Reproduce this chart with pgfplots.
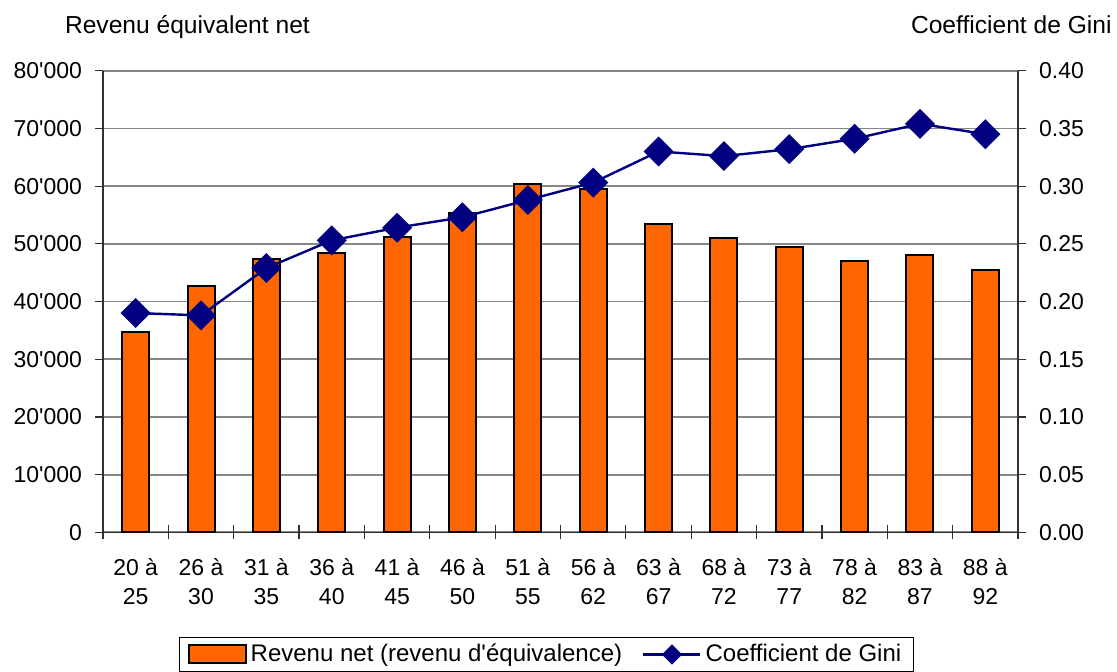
\documentclass[border=0pt]{standalone}
\usepackage{fontspec}
\setmainfont{Liberation Sans}
\usepackage{pgfplots}
\pgfplotsset{compat=1.18}
\usetikzlibrary{calc}

\definecolor{barorange}{HTML}{FF6600}
\definecolor{gininavy}{HTML}{000080}
\definecolor{gridgray}{HTML}{868686}
\definecolor{axisdark}{HTML}{303030}

\newcommand{\q}{\textquotesingle}

% Revenu net (revenu d'équivalence) par classe d'âge
\pgfplotstableread{
x revenu
0  34800
1  42700
2  47300
3  48400
4  51200
5  55400
6  60400
7  59500
8  53400
9  51000
10 49500
11 47100
12 48100
13 45500
}\revenutable

% Coefficient de Gini par classe d'âge
\pgfplotstableread{
x gini
0  0.190
1  0.188
2  0.229
3  0.253
4  0.264
5  0.273
6  0.288
7  0.303
8  0.330
9  0.326
10 0.332
11 0.341
12 0.354
13 0.345
}\ginitable

\begin{document}
\fontsize{11.5}{13.8}\selectfont
\begin{tikzpicture}
\pgfplotsset{
  every axis/.append style={
    scale only axis,
    width=457.5pt, height=230.8pt,
    xmin=-0.5, xmax=13.5,
    font=\fontsize{11.5}{14.5}\selectfont,
    /pgf/number format/assume math mode=true,
  },
}
\begin{axis}[
  name=ax,
  clip=false,
  ymin=0, ymax=80000,
  scaled y ticks=false,
  axis y line*=left,
  axis x line*=bottom,
  y axis line style={draw=axisdark, line width=0.9pt},
  x axis line style={draw=axisdark, line width=0.6pt},
  ytick={0,10000,...,80000},
  yticklabels={0,10\q000,20\q000,30\q000,40\q000,50\q000,60\q000,70\q000,80\q000},
  ymajorgrids,
  major grid style={draw=gridgray, line width=0.9pt},
  major y tick style={draw=axisdark, line width=0.6pt},
  tick align=outside,
  major tick length=4pt,
  yticklabel style={xshift=-2.5pt},
  xtick={0,...,13},
  xticklabels={20 à\\25, 26 à\\30, 31 à\\35, 36 à\\40, 41 à\\45, 46 à\\50, 51 à\\55,
               56 à\\62, 63 à\\67, 68 à\\72, 73 à\\77, 78 à\\82, 83 à\\87, 88 à\\92},
  xticklabel style={align=center, yshift=-5pt},
  major x tick style={draw=none},
  extra x ticks={-0.5,0.5,...,13.5},
  extra x tick labels={},
  extra x tick style={grid=none, major tick length=7pt, tick align=center,
                      major x tick style={draw=axisdark, line width=0.6pt}},
  legend style={at={(0.4847,-0.2647)}, anchor=center, draw=black, line width=0.5pt,
                legend columns=2, inner xsep=4pt, inner ysep=1pt,
                /tikz/every even column/.append style={column sep=8pt},
                font=\fontsize{12}{13.5}\selectfont},
  legend cell align=left,
]
\addplot[ybar, bar width=13.5pt, fill=barorange, draw=black, line width=1pt,
  legend image code/.code={\draw[fill=barorange, draw=black, line width=1pt]
    (0pt,-4.5pt) rectangle (28.5pt,4.5pt);}]
  table[x=x, y=revenu] {\revenutable};
\addlegendentry{Revenu net (revenu d\q équivalence)}
\addlegendimage{color=gininavy, line width=1.2pt,
  legend image code/.code={\draw[color=gininavy, line width=1.2pt] (0pt,0pt) -- (28.5pt,0pt);
    \fill[gininavy] (14.25pt,0pt) +(0,4.2pt) -- +(4.2pt,0) -- +(0,-4.2pt) -- +(-4.2pt,0) -- cycle;}}
\addlegendentry{Coefficient de Gini}
\node[anchor=base, inner sep=0pt, font=\fontsize{12.3}{14}\selectfont]
  at (rel axis cs:0.0923,1.081) {Revenu équivalent net};
\node[anchor=base east, inner sep=0pt, font=\fontsize{12.3}{14}\selectfont]
  at (rel axis cs:1.1027,1.081) {Coefficient de Gini};
\end{axis}

\begin{axis}[
  ymin=0, ymax=0.40,
  axis y line*=right,
  axis x line=none,
  y axis line style={draw=axisdark, line width=0.9pt},
  ytick={0,0.05,...,0.40},
  yticklabels={0.00,0.05,0.10,0.15,0.20,0.25,0.30,0.35,0.40},
  major y tick style={draw=axisdark, line width=0.6pt},
  tick align=outside,
  major tick length=4pt,
  yticklabel style={xshift=2.5pt},
]
\addplot[color=gininavy, line width=1.2pt, mark=square*,
  mark options={rotate=45, mark size=4.7pt, fill=gininavy, draw=gininavy}]
  table[x=x, y=gini] {\ginitable};
\end{axis}

\pgfresetboundingbox
\path[use as bounding box] ($(ax.south west)+(-51.5pt,-69.35pt)$) rectangle ($(ax.south west)+(507pt,266.15pt)$);
\end{tikzpicture}
\end{document}
